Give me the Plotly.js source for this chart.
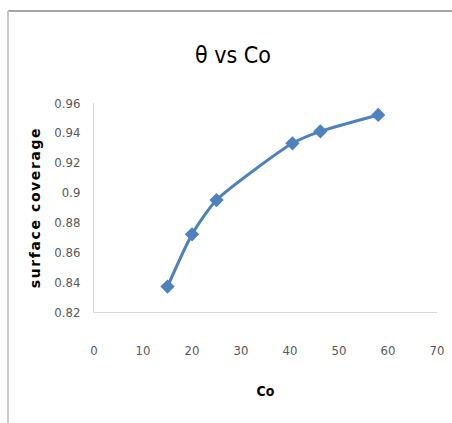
<!DOCTYPE html>
<html>
<head>
<meta charset="utf-8">
<script src="https://cdn.plot.ly/plotly-3.0.1.min.js"></script>
<style>
html,body{margin:0;padding:0;background:#fff;}
#chart{width:452px;height:423px;}
#chart .ytitle{letter-spacing:1.6px;}
</style>
</head>
<body>
<div id="chart"></div>
<script>
const co = [15, 20, 25, 40.5, 46.2, 58];
const theta = [0.837, 0.872, 0.895, 0.933, 0.941, 0.952];
const xTicks = [0, 10, 20, 30, 40, 50, 60, 70];
const yTicks = [0.82, 0.84, 0.86, 0.88, 0.9, 0.92, 0.94, 0.96];
const yTickText = ['0.82', '0.84', '0.86', '0.88', '0.9', '0.92', '0.94', '0.96'];

const W = 452, H = 423, L = 94, R = 15, T = 103, B = 111;
const pw = W - L - R, ph = H - T - B;
const fontFam = '"Liberation Sans Narrow", "DejaVu Sans Condensed", "Open Sans", sans-serif';

Plotly.newPlot('chart', [{
  x: co, y: theta, type: 'scatter', mode: 'lines+markers',
  line: {color: '#4f81bd', width: 3, shape: 'spline', smoothing: 0.6},
  marker: {symbol: 'diamond', size: 11, color: '#4f81bd'},
  hoverinfo: 'none'
}], {
  width: W, height: H,
  margin: {l: L, r: R, t: T, b: B},
  paper_bgcolor: '#fff', plot_bgcolor: '#fff',
  showlegend: false,
  title: {text: 'θ vs Co', x: 233 / W, xanchor: 'center', y: 1 - 55 / H, yanchor: 'middle',
          font: {family: fontFam, size: 23, color: '#000'}},
  xaxis: {
    range: [0, 70], tickvals: xTicks, ticktext: xTicks.map(String),
    showgrid: false, zeroline: false, showline: true, linecolor: '#d9d9d9', linewidth: 1,
    ticks: 'outside', ticklen: 26, tickcolor: 'rgba(0,0,0,0)',
    tickfont: {family: fontFam, size: 13, color: '#595959'},
    title: {text: '<b>Co</b>', standoff: 29, font: {family: fontFam, size: 14, color: '#000'}}
  },
  yaxis: {
    range: [0.82, 0.96], tickvals: yTicks, ticktext: yTickText,
    showgrid: false, zeroline: false, showline: true, linecolor: '#d9d9d9', linewidth: 1,
    ticks: 'outside', ticklen: 10, tickcolor: 'rgba(0,0,0,0)',
    tickfont: {family: fontFam, size: 13, color: '#595959'},
    title: {text: '<b>surface coverage</b>', standoff: 10, font: {family: '"DejaVu Sans", sans-serif', size: 14, color: '#000'}}
  },
  shapes: [
    {type: 'line', xref: 'paper', yref: 'paper', x0: (8 - L) / pw, x1: (W + 5 - L) / pw,
     y0: (H - B - 11) / ph, y1: (H - B - 11) / ph, line: {color: '#a6a6a6', width: 2}},
    {type: 'line', xref: 'paper', yref: 'paper', x0: (8 - L) / pw, x1: (8 - L) / pw,
     y0: (H - B - 11) / ph, y1: (H - B - H - 5) / ph, line: {color: '#c8c8c8', width: 2}}
  ]
}, {displayModeBar: false, staticPlot: true});
</script>
</body>
</html>
